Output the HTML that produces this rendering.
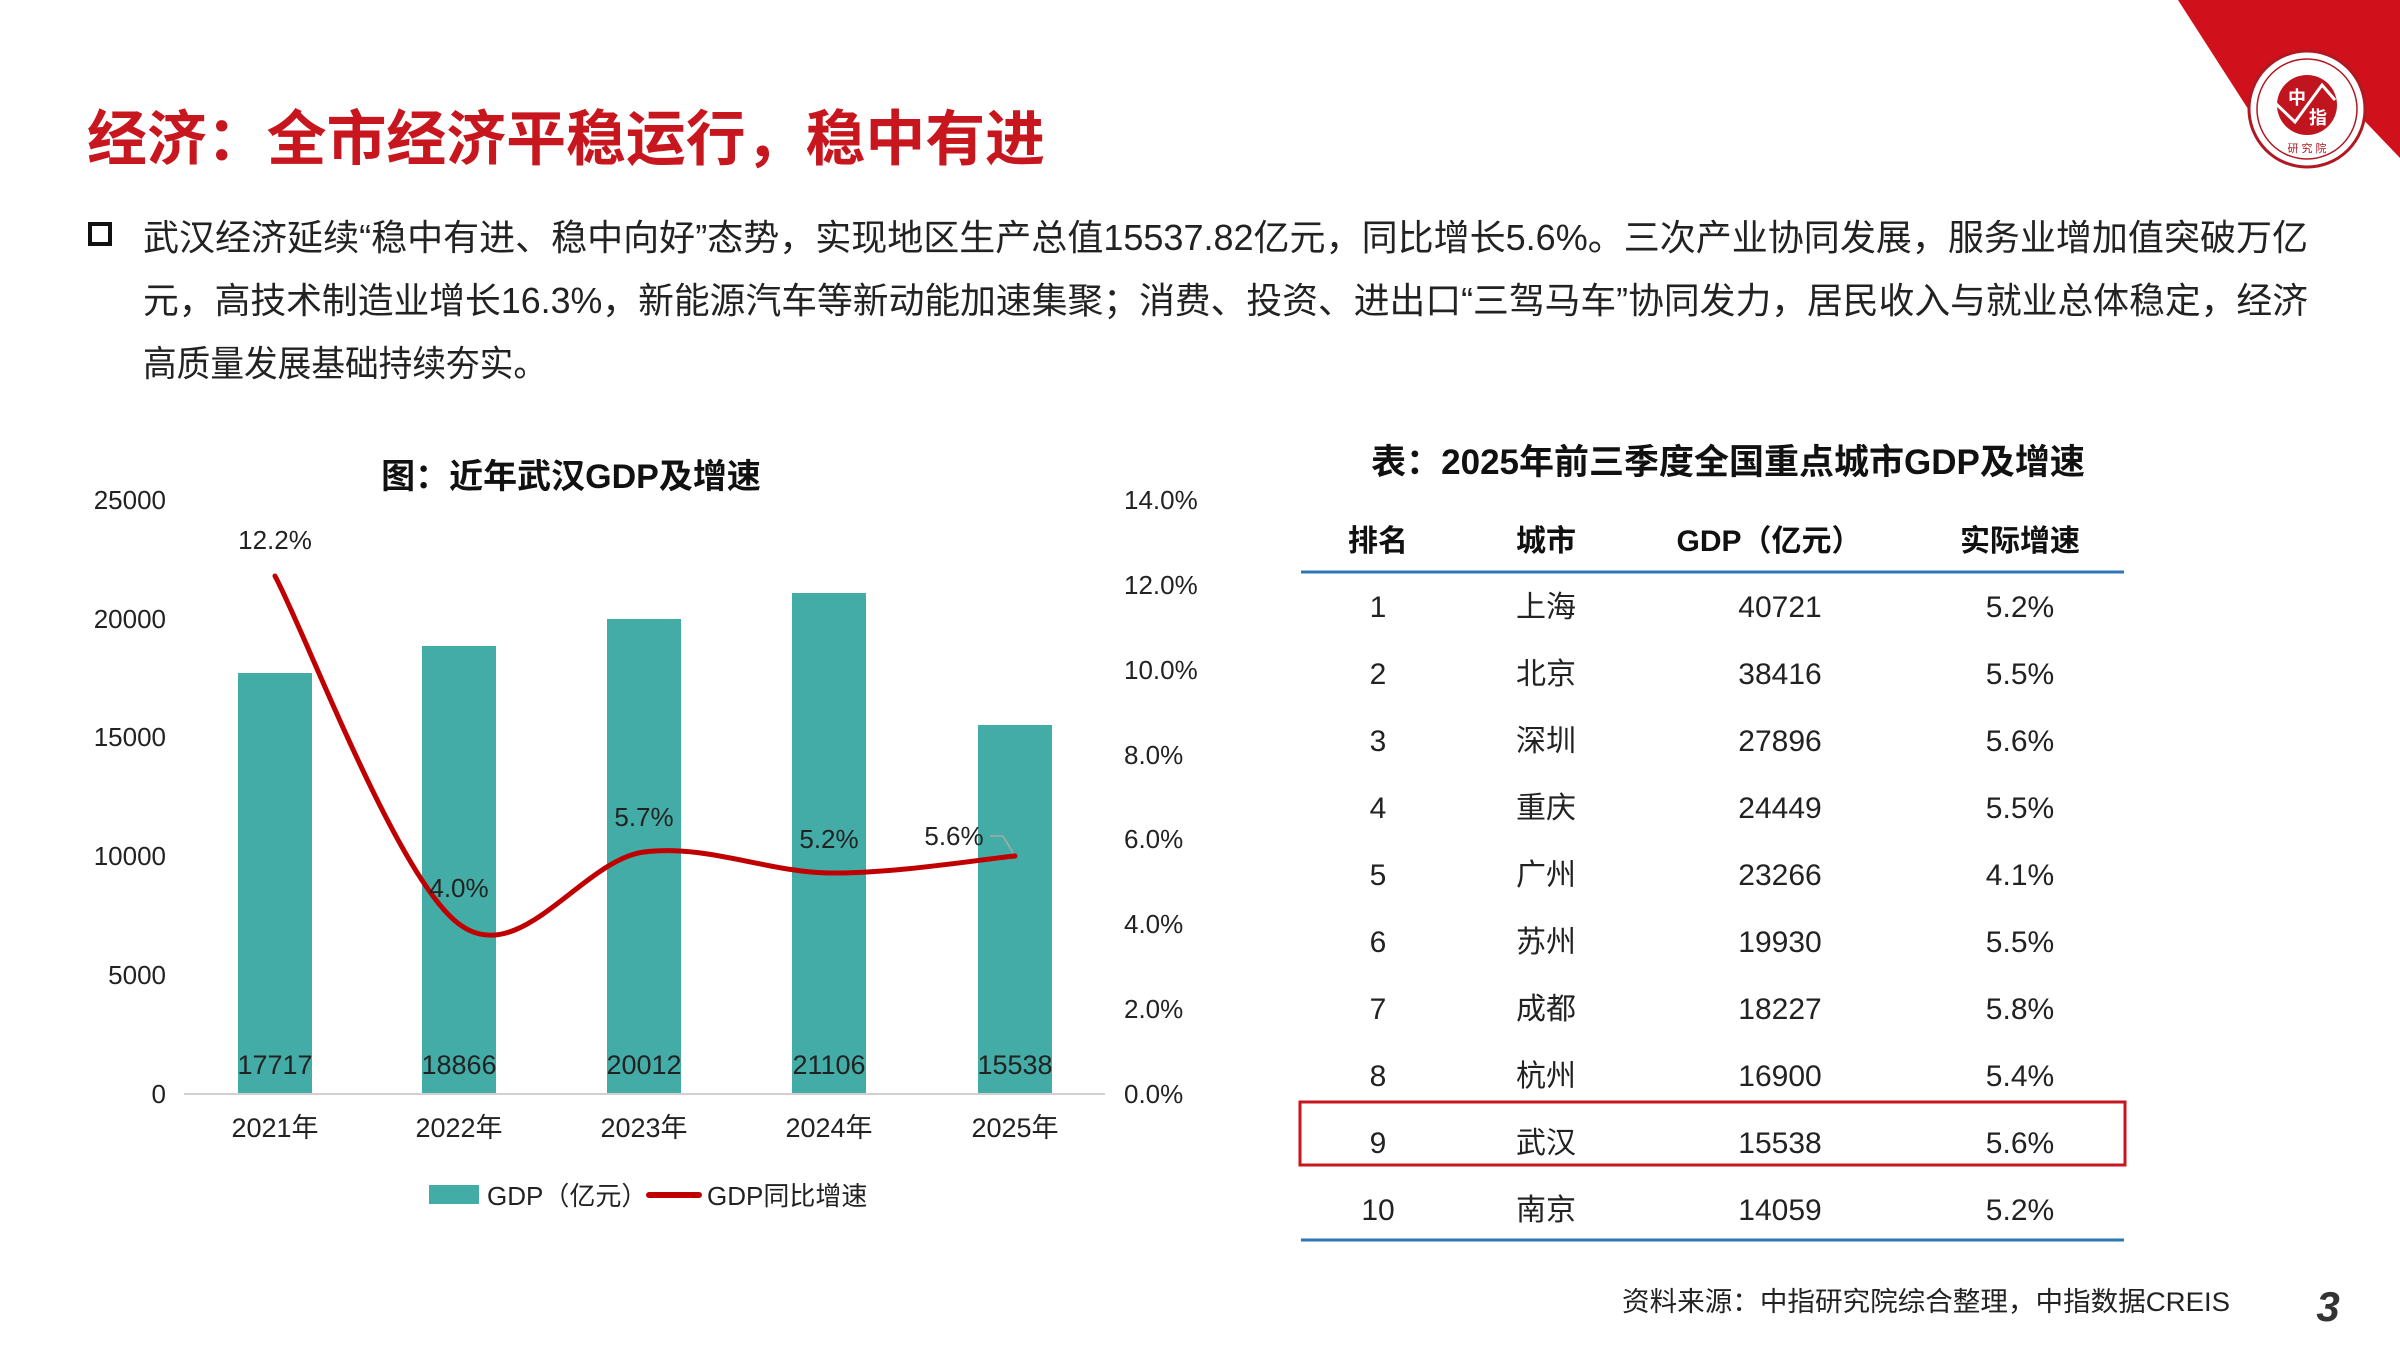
<!DOCTYPE html>
<html><head><meta charset="utf-8"><style>
html,body{margin:0;padding:0;background:#fff;}
svg{display:block;font-family:"Liberation Sans","Noto Sans CJK SC",sans-serif;}
</style></head><body>
<svg width="2400" height="1350" viewBox="0 0 2400 1350" xmlns="http://www.w3.org/2000/svg">
<rect width="2400" height="1350" fill="#fff"/>
<!-- top-right decoration -->
<polygon points="2178,0 2400,0 2400,158 2335,90 2268,140" fill="#d0101b"/>
<circle cx="2307" cy="109" r="58" fill="#fff" stroke="#b01822" stroke-width="3"/>
<circle cx="2307" cy="109" r="50" fill="none" stroke="#b01822" stroke-width="1.5"/>
<circle cx="2307" cy="105" r="30" fill="#c0141e"/>
<polyline points="2272,100 2295,122 2322,85 2335,100" fill="none" stroke="#fff" stroke-width="3"/>
<text x="2297" y="104" font-size="18" fill="#fff" font-weight="bold" text-anchor="middle">中</text>
<text x="2318" y="124" font-size="18" fill="#fff" font-weight="bold" text-anchor="middle">指</text>
<text x="2307" y="152" font-size="11" fill="#b01822" text-anchor="middle">研 究 院</text>

<!-- title -->
<text x="87" y="160" font-size="60" font-weight="bold" fill="#c8161e" textLength="958" lengthAdjust="spacingAndGlyphs">经济：全市经济平稳运行，稳中有进</text>

<!-- paragraph -->
<rect x="90" y="224" width="20" height="20" fill="none" stroke="#111" stroke-width="4"/>
<text font-size="36" fill="#222">
<tspan x="143" y="250" textLength="2165" lengthAdjust="spacingAndGlyphs">武汉经济延续“稳中有进、稳中向好”态势，实现地区生产总值15537.82亿元，同比增长5.6%。三次产业协同发展，服务业增加值突破万亿</tspan>
</text>
<text x="143" y="313" font-size="36" fill="#222" textLength="2165" lengthAdjust="spacingAndGlyphs">元，高技术制造业增长16.3%，新能源汽车等新动能加速集聚；消费、投资、进出口“三驾马车”协同发力，居民收入与就业总体稳定，经济</text>
<text x="143" y="376" font-size="36" fill="#222" textLength="404" lengthAdjust="spacingAndGlyphs">高质量发展基础持续夯实。</text>

<!-- chart title -->
<text x="571" y="488" font-size="34" font-weight="bold" fill="#111" text-anchor="middle">图：近年武汉GDP及增速</text>

<!-- left axis -->
<g font-size="26" fill="#222" text-anchor="end">
<text x="166" y="509">25000</text>
<text x="166" y="628">20000</text>
<text x="166" y="746">15000</text>
<text x="166" y="865">10000</text>
<text x="166" y="984">5000</text>
<text x="166" y="1103">0</text>
</g>
<g font-size="26" fill="#222">
<text x="1124" y="509">14.0%</text>
<text x="1124" y="594">12.0%</text>
<text x="1124" y="679">10.0%</text>
<text x="1124" y="764">8.0%</text>
<text x="1124" y="848">6.0%</text>
<text x="1124" y="933">4.0%</text>
<text x="1124" y="1018">2.0%</text>
<text x="1124" y="1103">0.0%</text>
</g>

<!-- bars -->
<g fill="#43aca6">
<rect x="238" y="673" width="74" height="421"/>
<rect x="422" y="646" width="74" height="448"/>
<rect x="607" y="619" width="74" height="475"/>
<rect x="792" y="593" width="74" height="501"/>
<rect x="978" y="725" width="74" height="369"/>
</g>
<line x1="184" y1="1094" x2="1105" y2="1094" stroke="#d0d0d0" stroke-width="2"/>
<g font-size="27" fill="#222" text-anchor="middle">
<text x="275" y="1074">17717</text>
<text x="459" y="1074">18866</text>
<text x="644" y="1074">20012</text>
<text x="829" y="1074">21106</text>
<text x="1015" y="1074">15538</text>
</g>
<g font-size="27" fill="#222" text-anchor="middle">
<text x="275" y="1137">2021年</text>
<text x="459" y="1137">2022年</text>
<text x="644" y="1137">2023年</text>
<text x="829" y="1137">2024年</text>
<text x="1015" y="1137">2025年</text>
</g>

<!-- line -->
<path d="M275,576 C306,634 397,878 459,924 C520,970 582,860 644,852 C706,844 767,872 829,873 C891,874 984,859 1015,856" fill="none" stroke="#c00000" stroke-width="5" stroke-linecap="round"/>
<polyline points="990,836 1003,836 1013,853" fill="none" stroke="#aaa" stroke-width="1.5"/>
<g font-size="26" fill="#222" text-anchor="middle">
<text x="275" y="549">12.2%</text>
<text x="459" y="897">4.0%</text>
<text x="644" y="826">5.7%</text>
<text x="829" y="848">5.2%</text>
<text x="954" y="845">5.6%</text>
</g>

<!-- legend -->
<rect x="429" y="1185" width="50" height="19" fill="#43aca6"/>
<text x="487" y="1205" font-size="26" fill="#222">GDP（亿元）</text>
<line x1="649" y1="1195" x2="699" y2="1195" stroke="#c00000" stroke-width="6" stroke-linecap="round"/>
<text x="707" y="1205" font-size="26" fill="#222">GDP同比增速</text>

<!-- table -->
<text x="1728" y="474" font-size="35" font-weight="bold" fill="#111" text-anchor="middle">表：2025年前三季度全国重点城市GDP及增速</text>
<g font-size="30" font-weight="bold" fill="#111" text-anchor="middle">
<text x="1378" y="551">排名</text>
<text x="1546" y="551">城市</text>
<text x="1769" y="551">GDP（亿元）</text>
<text x="2020" y="551">实际增速</text>
</g>
<line x1="1301" y1="572" x2="2124" y2="572" stroke="#2e75b6" stroke-width="3"/>
<g font-size="30" fill="#222" text-anchor="middle">
<text x="1378" y="617">1</text><text x="1546" y="617">上海</text><text x="1780" y="617">40721</text><text x="2020" y="617">5.2%</text>
<text x="1378" y="684">2</text><text x="1546" y="684">北京</text><text x="1780" y="684">38416</text><text x="2020" y="684">5.5%</text>
<text x="1378" y="751">3</text><text x="1546" y="751">深圳</text><text x="1780" y="751">27896</text><text x="2020" y="751">5.6%</text>
<text x="1378" y="818">4</text><text x="1546" y="818">重庆</text><text x="1780" y="818">24449</text><text x="2020" y="818">5.5%</text>
<text x="1378" y="885">5</text><text x="1546" y="885">广州</text><text x="1780" y="885">23266</text><text x="2020" y="885">4.1%</text>
<text x="1378" y="952">6</text><text x="1546" y="952">苏州</text><text x="1780" y="952">19930</text><text x="2020" y="952">5.5%</text>
<text x="1378" y="1019">7</text><text x="1546" y="1019">成都</text><text x="1780" y="1019">18227</text><text x="2020" y="1019">5.8%</text>
<text x="1378" y="1086">8</text><text x="1546" y="1086">杭州</text><text x="1780" y="1086">16900</text><text x="2020" y="1086">5.4%</text>
<text x="1378" y="1153">9</text><text x="1546" y="1153">武汉</text><text x="1780" y="1153">15538</text><text x="2020" y="1153">5.6%</text>
<text x="1378" y="1220">10</text><text x="1546" y="1220">南京</text><text x="1780" y="1220">14059</text><text x="2020" y="1220">5.2%</text>
</g>
<rect x="1300" y="1102" width="825" height="63" fill="none" stroke="#c8161e" stroke-width="3"/>
<line x1="1301" y1="1240" x2="2124" y2="1240" stroke="#2e75b6" stroke-width="3"/>

<!-- source -->
<text x="1622" y="1311" font-size="27" fill="#222" textLength="608" lengthAdjust="spacingAndGlyphs">资料来源：中指研究院综合整理，中指数据CREIS</text>
<text x="2328" y="1321" font-size="42" font-weight="bold" font-style="italic" fill="#333" text-anchor="middle">3</text>
</svg>
</body></html>
